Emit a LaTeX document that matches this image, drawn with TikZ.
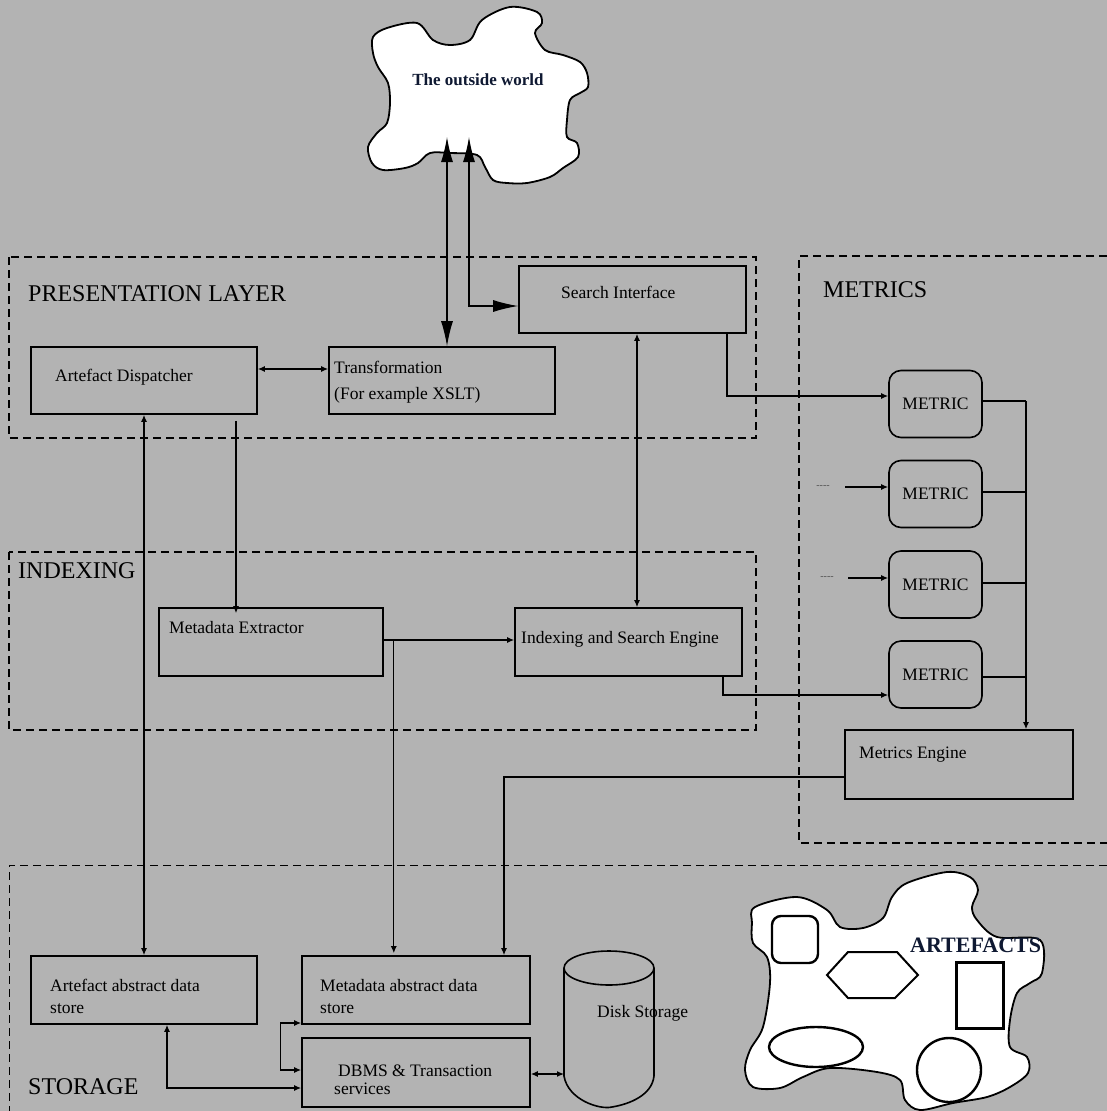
\documentclass[tikz,border=0pt]{standalone}
\usepackage{fontspec}
\setmainfont{Liberation Serif}
\usetikzlibrary{arrows.meta}
\definecolor{bg}{RGB}{179,179,179}
\definecolor{navy}{RGB}{15,25,50}
\newcommand\bxf{\fontsize{17.5}{21}\selectfont}
\newcommand\lyf{\fontsize{24}{28}\selectfont}
\begin{document}
\begin{tikzpicture}[x=1pt,y=-1pt,
  box/.style={draw, line width=1.6pt, inner sep=0pt, minimum width=226pt, minimum height=67pt},
  metricbox/.style={draw, line width=1.6pt, rounded corners=12pt, inner sep=0pt, minimum width=93pt, minimum height=67pt, font=\fontsize{17.5}{20}\selectfont},
  lbl/.style={anchor=base west, inner sep=0pt, font=\bxf},
  layer/.style={anchor=base west, inner sep=0pt, font=\lyf},
  region/.style={line width=1.8pt, dash pattern=on 8pt off 5pt},
  conn/.style={line width=1.3pt},
  smarr/.style={conn, -{Latex[length=7pt,width=6pt]}},
  smdbl/.style={conn, {Latex[length=7pt,width=6pt]}-{Latex[length=7pt,width=6pt]}},
  bigdbl/.style={conn, {Latex[length=25pt,width=12pt]}-{Latex[length=25pt,width=12pt]}},
  shp/.style={line width=2.4pt}
]
\fill[bg] (0,0) rectangle (1107,1111);
\useasboundingbox (0,0) rectangle (1107,1111);

% regions
\draw[region] (9,257) rectangle (756,438);
\draw[region] (9,552) rectangle (756,730);
\draw[region] (1107,256) -- (799,256) -- (799,843) -- (1107,843);
\draw[line width=0.9pt, dash pattern=on 8pt off 5pt] (1107,865) -- (9,865) -- (9,1111);

\node[layer] (lpres) at (28,301) {PRESENTATION LAYER};
\node[layer] (lmet) at (823,297) {METRICS};
\node[layer] (lidx) at (18,578) {INDEXING};
\node[layer] (lsto) at (28,1094) {STORAGE};

% outside world cloud
\draw[fill=white, line width=1.8pt] plot[smooth cycle, tension=0.55] coordinates {
 (373,37) (387,28) (417,23) (433,40) (450,45) (470,40) (482,20) (510,7) (537,12) (542,23)
 (535,33) (545,50) (563,55) (580,62) (587,73) (588,87) (580,93) (570,100) (567,120) (567,137)
 (577,143) (578,157) (563,168) (550,177) (527,183) (507,183) (493,180) (485,167) (477,155)
 (450,153) (430,153) (418,163) (405,168) (383,170) (372,163) (368,147) (377,133) (387,123)
 (390,103) (388,83) (378,67) (373,53)};
\node[font=\bfseries\fontsize{17}{20}\selectfont, text=navy, inner sep=0pt] (world) at (478,80) {The outside world};
\coordinate (cl1) at (447,137);
\coordinate (cl2) at (469,137);

% boxes
\node[box] (ad) at (144,380.5) {};
\node[box] (tr) at (442,380.5) {};
\node[box, minimum width=227pt] (si) at (632.5,299.5) {};
\node[box, minimum width=224pt, minimum height=68pt] (mx) at (271,642) {};
\node[box, minimum width=227pt, minimum height=68pt] (ise) at (628.5,642) {};
\node[box, minimum width=228pt, minimum height=69pt] (me) at (959,764.5) {};
\node[box, minimum height=68pt] (aads) at (144,990) {};
\node[box, minimum width=228pt, minimum height=68pt] (mads) at (416,990) {};
\node[box, minimum width=228pt, minimum height=69pt] (dbms) at (416,1072.5) {};

\node[metricbox] (m1) at (935.5,404) {METRIC};
\node[metricbox] (m2) at (935.5,494) {METRIC};
\node[metricbox] (m3) at (935.5,584.5) {METRIC};
\node[metricbox] (m4) at (935.5,674.5) {METRIC};

% box texts
\node[lbl] (tad) at (55,381) {Artefact Dispatcher};
\node[lbl] (ttr1) at (334,373) {Transformation};
\node[lbl] (ttr2) at (334,399) {(For example XSLT)};
\node[lbl] (tsi) at (561,298) {Search Interface};
\node[lbl] (tmx) at (169,633) {Metadata Extractor};
\node[lbl] (tise) at (521,643) {Indexing and Search Engine};
\node[lbl] (tme) at (859,758) {Metrics Engine};
\node[lbl] (taads1) at (50,991) {Artefact abstract data};
\node[lbl] (taads2) at (50,1013) {store};
\node[lbl] (tmads1) at (320,991) {Metadata abstract data};
\node[lbl] (tmads2) at (320,1013) {store};
\node[lbl] (tdb1) at (338,1076) {DBMS \& Transaction};
\node[lbl] (tdb2) at (334,1094) {services};

% disk cylinder
\draw[line width=1.6pt] (564,968) -- (564,1076) .. controls (568,1100) and (600,1110) .. (612,1107)
  .. controls (630,1104) and (652,1095) .. (654,1076) -- (654,968);
\draw[line width=1.6pt] (609,968) ellipse [x radius=45pt, y radius=17pt];
\coordinate (diskw) at (564,1074);
\node[lbl] (tdisk) at (597,1017) {Disk Storage};

% connectors
\draw[bigdbl] (cl1) -- (cl1 |- tr.north);
\draw[bigdbl] (cl2) |- ([yshift=-6.5pt]si.west);
\draw[smdbl] ([yshift=11.5pt]ad.east) -- ([yshift=11.5pt]tr.west);
\draw[smdbl] ([xshift=4.5pt]si.south) -- ([xshift=4.5pt]si.south |- ise.north);
\draw[smdbl] (ad.south) -- (aads.north);
\draw[smarr] ([xshift=92pt,yshift=-6pt]ad.south) -- ([xshift=92pt,yshift=-6pt]ad.south |- mx.north);
\draw[smarr] ([xshift=94.5pt]si.south) |- ([yshift=8pt]m1.west);
\draw[smarr] ([xshift=94.5pt]ise.south) |- ([yshift=-20.5pt]m4.west);

\node[inner sep=0pt, font=\fontsize{10}{12}\selectfont, text=black!70] (dots2) at (823,487) {{-}{-}{-}{-}};
\node[inner sep=0pt, font=\fontsize{10}{12}\selectfont, text=black!70] (dots3) at (827,578) {{-}{-}{-}{-}};
\coordinate (d2) at (845,487);
\coordinate (d3) at (848,578);
\draw[smarr] (d2) -- (d2 -| m2.west);
\draw[smarr] (d3) -- (d3 -| m3.west);

\coordinate (bus) at (1026,401);
\draw[conn] ([yshift=3pt]m1.east) -- (bus);
\draw[conn] ([yshift=2pt]m2.east) -- ([yshift=2pt]m2.east -| bus);
\draw[conn] ([yshift=1.5pt]m3.east) -- ([yshift=1.5pt]m3.east -| bus);
\draw[conn] ([yshift=-2.5pt]m4.east) -- ([yshift=-2.5pt]m4.east -| bus);
\draw[smarr] (bus) -- (bus |- me.north);

\draw[smarr] ([yshift=-12.5pt]me.west) -| ([xshift=88pt]mads.north);
\draw[smarr] ([yshift=2pt]mx.east) -- ([yshift=2pt]mx.east -| ise.west);
\draw[smarr] ([xshift=10pt,yshift=2pt]mx.east) -- ([xshift=10pt,yshift=2pt]mx.east |- mads.north);
\draw[smdbl] ([xshift=23pt]aads.south) |- ([yshift=-15.5pt]dbms.west);
\draw[smdbl] ([yshift=-33pt]mads.west) -- ++(-21pt,0) |- ([yshift=2.5pt]dbms.west);
\draw[smdbl] ([yshift=-1.5pt]dbms.east) -- (diskw);

% artefacts cloud
\draw[fill=white, line width=1.8pt] plot[smooth cycle, tension=0.55] coordinates {
 (755,907) (797,897) (827,910) (840,927) (863,928) (883,918) (892,897) (907,883) (947,872)
 (970,877) (978,890) (972,907) (977,920) (997,937) (1040,940) (1042,973) (1030,983) (1017,993)
 (1010,1020) (1010,1047) (1027,1057) (1028,1073) (1010,1087) (987,1097) (953,1103) (920,1110)
 (905,1100) (900,1080) (877,1072) (830,1068) (803,1077) (780,1088) (753,1087) (745,1070)
 (750,1050) (763,1027) (770,983) (767,957) (753,943) (752,923)};
\draw[shp, rounded corners=9pt] (772,916) rectangle (818,963);
\draw[shp, line width=2pt] (827,975) -- (848,952) -- (897,952) -- (918,975) -- (895,998) -- (848,998) -- cycle;
\draw[line width=3pt] (956,962) rectangle (1003,1028);
\draw[shp] (816,1047) ellipse [x radius=47pt, y radius=20pt];
\draw[shp] (949,1070) circle [radius=32pt];
\node[anchor=base west, inner sep=0pt, font=\bfseries\fontsize{22}{26}\selectfont, text=navy] (tart) at (910,952) {ARTEFACTS};
\end{tikzpicture}
\end{document}
